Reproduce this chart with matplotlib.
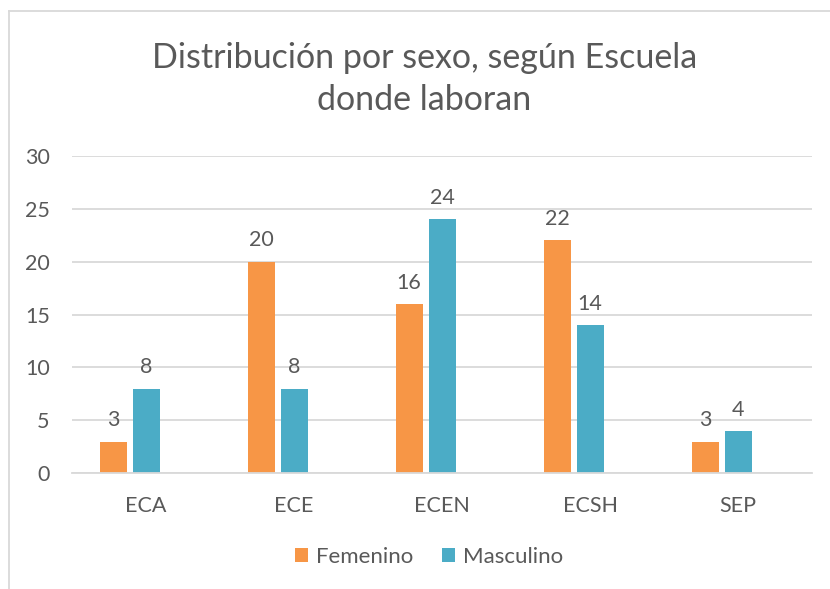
import numpy as np
import matplotlib
matplotlib.use("Agg")
import matplotlib.pyplot as plt
from matplotlib.lines import Line2D

escuelas = ["ECA", "ECE", "ECEN", "ECSH", "SEP"]
femenino = [3, 20, 16, 22, 3]
masculino = [8, 8, 24, 14, 4]
yticks = [0, 5, 10, 15, 20, 25, 30]

c_fem = "#F79646"
c_mas = "#4BACC6"
c_txt = "#595959"
c_grid = "#D9D9D9"

plt.rcParams["font.family"] = ["Lato", "DejaVu Sans"]

fig = plt.figure(figsize=(8.3, 5.89), dpi=100)
ax = fig.add_axes([72 / 830, 1 - 473.3 / 589, 740 / 830, (473.3 - 155.7) / 589])

x = np.arange(len(escuelas))
w = 27 / 148
off = 33 / 148
b1 = ax.bar(x - off, femenino, w, color=c_fem, label="Femenino")
b2 = ax.bar(x, masculino, w, color=c_mas, label="Masculino")

for bars, vals in [(b1, femenino), (b2, masculino)]:
    for b, v in zip(bars, vals):
        ax.annotate(str(v), (b.get_x() + b.get_width() / 2, v), xytext=(0, 8),
                    textcoords="offset points", ha="center", va="bottom",
                    fontsize=15.5, color=c_txt)

ax.set_xlim(-0.5, len(escuelas) - 0.5)
ax.set_ylim(0, 30)
ax.set_yticks(yticks)
ax.set_xticks(x)
ax.set_xticklabels(escuelas)
ax.yaxis.grid(True, color=c_grid, lw=1.3)
ax.set_axisbelow(True)
for s in ["top", "right", "left"]:
    ax.spines[s].set_visible(False)
ax.spines["bottom"].set_color(c_grid)
ax.spines["bottom"].set_linewidth(1.3)
ax.tick_params(length=0, labelsize=15.5, colors=c_txt)
ax.tick_params(axis="y", pad=16)
ax.tick_params(axis="x", pad=16)

fig.text(0.511, 1 - 79 / 589, "Distribución por sexo, según Escuela\ndonde laboran",
         ha="center", va="center", fontsize=24.5, color=c_txt, linespacing=1.35)

fig.legend(handles=[b1, b2], loc="center", bbox_to_anchor=(0.517, 1 - 557 / 589),
           ncol=2, frameon=False, fontsize=16, labelcolor=c_txt,
           handlelength=0.6, handleheight=0.6, handletextpad=0.35, columnspacing=1.3)

# marco del grafico
fig.add_artist(Line2D([9 / 830, 9 / 830], [0, 1 - 11 / 589], color=c_grid, lw=1.3))
fig.add_artist(Line2D([9 / 830, 1], [1 - 11 / 589, 1 - 11 / 589], color=c_grid, lw=1.3))

fig.savefig("out.png", dpi=100)
